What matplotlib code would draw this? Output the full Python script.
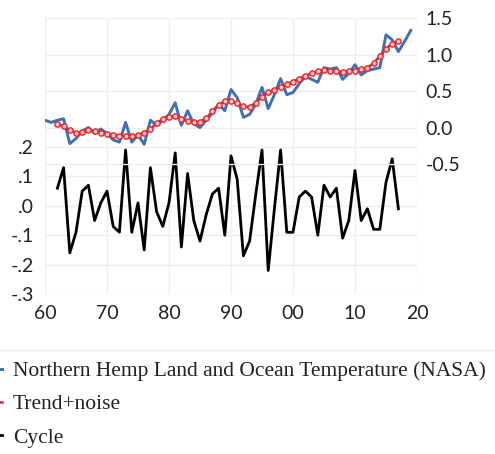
import matplotlib
matplotlib.use("Agg")
import matplotlib.pyplot as plt
from matplotlib.lines import Line2D
import numpy as np

# ---------------- data ----------------
temp_years = list(range(1960, 2020))
temp_nasa = [0.10, 0.07, 0.10, 0.12, -0.22, -0.15, -0.05, 0.00, -0.08, -0.02,
             -0.08, -0.17, -0.20, 0.07, -0.20, -0.10, -0.23, 0.10, 0.03, 0.10,
             0.18, 0.34, 0.03, 0.23, 0.05, 0.00, 0.10, 0.20, 0.32, 0.23,
             0.52, 0.41, 0.14, 0.18, 0.32, 0.55, 0.26, 0.45, 0.67, 0.45,
             0.48, 0.60, 0.70, 0.66, 0.62, 0.82, 0.80, 0.82, 0.66, 0.74,
             0.86, 0.72, 0.78, 0.80, 0.82, 1.27, 1.20, 1.04, 1.18, 1.33]

model_years = list(range(1962, 2018))
trend_noise = [0.05, 0.02, -0.04, -0.07, -0.06, -0.04, -0.05, -0.07,
               -0.09, -0.10, -0.11, -0.12, -0.12, -0.10, -0.07, -0.02, 0.06, 0.12,
               0.15, 0.16, 0.12, 0.09, 0.07, 0.08, 0.13, 0.22, 0.31, 0.36,
               0.36, 0.33, 0.29, 0.28, 0.34, 0.42, 0.48, 0.52, 0.55, 0.59,
               0.63, 0.67, 0.71, 0.74, 0.77, 0.79, 0.78, 0.77, 0.76, 0.77,
               0.78, 0.80, 0.82, 0.88, 0.98, 1.08, 1.15, 1.18]
cycle = [0.06, 0.13, -0.16, -0.09, 0.05, 0.07, -0.05, 0.01,
         0.05, -0.07, -0.09, 0.19, -0.09, 0.01, -0.15, 0.13, -0.02, -0.07,
         0.01, 0.18, -0.14, 0.11, -0.05, -0.12, -0.03, 0.04, 0.06, -0.10,
         0.17, 0.09, -0.17, -0.12, 0.04, 0.19, -0.22, -0.01, 0.19, -0.09,
         -0.09, 0.03, 0.05, 0.03, -0.10, 0.07, 0.03, 0.06, -0.11, -0.05,
         0.12, -0.05, -0.01, -0.08, -0.08, 0.08, 0.16, -0.01]

x_ticks = [1960, 1970, 1980, 1990, 2000, 2010, 2020]
x_ticklabels = ["60", "70", "80", "90", "00", "10", "20"]
left_ticks = [-0.3, -0.2, -0.1, 0.0, 0.1, 0.2]
left_ticklabels = ["-.3", "-.2", "-.1", ".0", ".1", ".2"]
right_ticks = [-0.5, 0.0, 0.5, 1.0, 1.5]
right_ticklabels = ["-0.5", "0.0", "0.5", "1.0", "1.5"]
labels = ["Northern Hemp Land and Ocean Temperature (NASA)", "Trend+noise", "Cycle"]

# ---------------- figure ----------------
W, H = 495, 454
fig = plt.figure(figsize=(W / 100, H / 100), dpi=100)
fig.patch.set_facecolor("white")

left_px, right_px, top_px, bottom_px = 45, 417, 18, 294
ax = fig.add_axes([left_px / W, 1 - bottom_px / H, (right_px - left_px) / W, (bottom_px - top_px) / H])
ax2 = ax.twinx()

tick_font = dict(family=["Lato", "DejaVu Sans"], size=14, color="#222222")
grid_col = "#efefef"

# left axis (cycle)
ax.set_xlim(1960, 2020)
ax.set_ylim(-0.3, 0.639)
ax.set_xticks(x_ticks)
ax.set_xticklabels(x_ticklabels, **tick_font)
ax.set_yticks(left_ticks)
ax.set_yticklabels(left_ticklabels, **tick_font)
ax.tick_params(length=0, pad=8)
ax.tick_params(axis="x", pad=8)
for t in left_ticks:
    ax.axhline(t, color=grid_col, lw=1, zorder=0)
for t in x_ticks:
    ax.axvline(t, color=grid_col, lw=1, zorder=0)
for s in ax.spines.values():
    s.set_visible(False)

# right axis (temperature)
ax2.set_ylim(-2.28, 1.5)
ax2.set_yticks(right_ticks)
ax2.set_yticklabels(right_ticklabels, **tick_font)
ax2.tick_params(length=0, pad=6)
for t in right_ticks:
    ax2.axhline(t, color=grid_col, lw=1, zorder=0)
for s in ax2.spines.values():
    s.set_visible(False)

l_cycle, = ax.plot(model_years, cycle, color="black", lw=2.0, zorder=3)
l_nasa, = ax2.plot(temp_years, temp_nasa, color="#3f6fb5", lw=2.1, zorder=2)
l_trend, = ax2.plot(model_years, trend_noise, color="#e8242b", lw=1.8, marker="o",
                    ms=3.8, mfc="#f8c8c8", mec="#e8242b", mew=1.0, zorder=3)

# faint separator line
fig.add_artist(Line2D([0, 1], [1 - 350 / H, 1 - 350 / H], color="#f0f0f0", lw=1))

fs = 15.5
fs_px = fs * 100 / 72
hl, htp = 1.5, 0.53
anchor_x = (13 - (hl + htp) * fs_px) / W
leg = fig.legend([l_nasa, l_trend, l_cycle], labels, loc="upper left",
                 bbox_to_anchor=(anchor_x, 1 - 361 / H), frameon=False,
                 prop=dict(family=["Liberation Serif", "DejaVu Serif"], size=fs),
                 handlelength=hl, handletextpad=htp, borderpad=0, borderaxespad=0,
                 labelspacing=0.62)
for t in leg.get_texts():
    t.set_color("#222222")

fig.savefig("out.png", dpi=100)
